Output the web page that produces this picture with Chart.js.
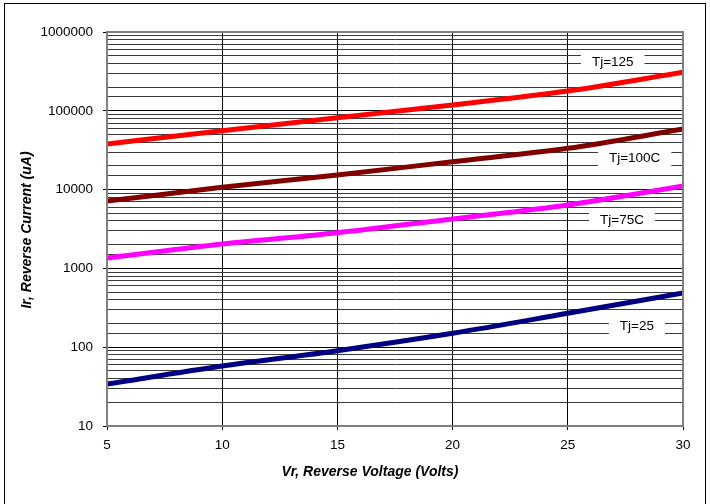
<!DOCTYPE html>
<html>
<head>
<meta charset="utf-8">
<script src="https://cdn.jsdelivr.net/npm/chart.js@4"></script>
<style>
  html, body { margin: 0; padding: 0; background: #fff; }
  #wrap { width: 710px; height: 504px; position: relative; }
</style>
</head>
<body>
<div id="wrap"><canvas id="c" width="710" height="504"></canvas></div>
<script>
// ---- data ----
const voltages = [5, 10, 15, 20, 25, 30];
const tj125 = [37900, 55900, 81700, 118500, 178000, 308000];
const tj100 = [7160, 10700, 15300, 22600, 33400, 58700];
const tj75  = [1355, 2040, 2840, 4240, 6380, 11100];
const tj25  = [34.1, 57.7, 90.3, 150, 269, 487];
const seriesNames = ['Tj=125', 'Tj=100C', 'Tj=75C', 'Tj=25'];
// label anchors in data units (voltage, current)
const labelV = [26.95, 27.9, 27.35, 28.0];
const labelI = [428000, 25900, 4240, 191];
const yMin = 10, yMax = 1000000;
const xMin = 5, xMax = 30, xStep = 5;
const xTitle = 'Vr, Reverse Voltage (Volts)';
const yTitle = 'Ir, Reverse Current (uA)';

const FONT = '"Liberation Sans", Arial, Helvetica, sans-serif';
const colors = ['#FF0000', '#800000', '#FF00FF', '#000080'];
const allSeries = [tj125, tj100, tj75, tj25];

function isDecade(v) {
  const l = Math.log10(v);
  return Math.abs(l - Math.round(l)) < 1e-9;
}

const decorPlugin = {
  id: 'decor',
  afterDatasetsDraw(chart) {
    const ctx = chart.ctx;
    const xs = chart.scales.x, ys = chart.scales.y;
    const ca = chart.chartArea;
    ctx.save();
    // labels with white boxes
    ctx.font = '13.5px ' + FONT;
    ctx.textAlign = 'center';
    ctx.textBaseline = 'middle';
    for (let i = 0; i < seriesNames.length; i++) {
      const px = xs.getPixelForValue(labelV[i]);
      const py = ys.getPixelForValue(labelI[i]);
      const w = ctx.measureText(seriesNames[i]).width + 22;
      const h = 20;
      ctx.fillStyle = '#fff';
      ctx.fillRect(px - w / 2, py - h / 2, w, h);
      ctx.fillStyle = '#000';
      ctx.fillText(seriesNames[i], px, py + 1);
    }
    // plot border (gray)
    ctx.strokeStyle = '#808080';
    ctx.lineWidth = 2;
    ctx.strokeRect(ca.left, ca.top, ca.right - ca.left, ca.bottom - ca.top);
    ctx.restore();
  },
  afterDraw(chart) {
    const ctx = chart.ctx;
    const ca = chart.chartArea;
    ctx.save();
    ctx.fillStyle = '#000';
    ctx.font = 'italic bold 14px ' + FONT;
    ctx.textAlign = 'center';
    ctx.textBaseline = 'middle';
    ctx.fillText(xTitle, ca.left + 263, ca.bottom + 46);
    ctx.translate(27.5, (ca.top + ca.bottom) / 2 + 1);
    ctx.rotate(-Math.PI / 2);
    ctx.fillText(yTitle, 0, 0);
    ctx.restore();
    // outer frame
    ctx.save();
    ctx.strokeStyle = '#000';
    ctx.lineWidth = 1;
    ctx.strokeRect(4.5, 3.5, 701, 520);
    ctx.restore();
  }
};

new Chart(document.getElementById('c'), {
  type: 'line',
  data: {
    datasets: allSeries.map((s, i) => ({
      label: seriesNames[i],
      data: voltages.map((v, j) => ({ x: v, y: s[j] })),
      borderColor: colors[i],
      backgroundColor: colors[i],
      borderWidth: 5,
      pointRadius: 0,
      fill: false,
      cubicInterpolationMode: 'monotone',
      tension: 0.4
    }))
  },
  options: {
    responsive: false,
    animation: false,
    devicePixelRatio: 1,
    layout: { padding: { top: 32, right: 27, left: 0, bottom: 0 } },
    plugins: { legend: { display: false }, tooltip: { enabled: false } },
    scales: {
      x: {
        type: 'linear',
        min: xMin, max: xMax,
        ticks: {
          stepSize: xStep,
          color: '#000',
          font: { family: FONT, size: 13.5 },
          padding: 7,
          maxRotation: 0
        },
        grid: { color: '#000', lineWidth: 1, tickLength: 4, tickColor: '#000' },
        border: { color: '#808080', width: 2 },
        afterFit(scale) { scale.height = 78; }
      },
      y: {
        type: 'logarithmic',
        min: yMin, max: yMax,
        ticks: {
          autoSkip: false,
          color: '#000',
          font: { family: FONT, size: 13.5 },
          padding: 10,
          callback: (v) => isDecade(v) ? String(Math.round(v)) : ''
        },
        grid: {
          color: (c) => (c.tick && isDecade(c.tick.value)) ? '#000' : '#3a3a3a',
          lineWidth: 1,
          tickLength: 4,
          tickColor: (c) => (c.tick && isDecade(c.tick.value)) ? '#000' : 'rgba(0,0,0,0)'
        },
        border: { color: '#808080', width: 2 },
        afterFit(scale) { scale.width = 107; }
      }
    }
  },
  plugins: [decorPlugin]
});
</script>
</body>
</html>
